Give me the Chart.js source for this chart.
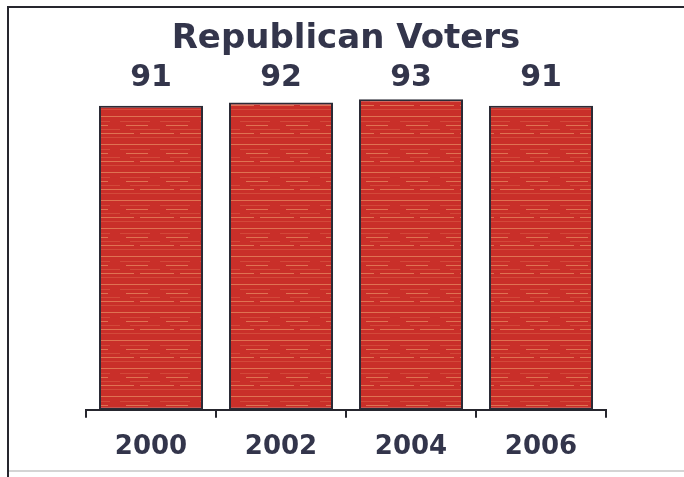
<!DOCTYPE html>
<html>
<head>
<meta charset="utf-8">
<script src="https://cdn.jsdelivr.net/npm/chart.js@4.4.1/dist/chart.umd.min.js"></script>
<style>
  html,body{margin:0;padding:0;background:#fff;}
  #wrap{width:684px;height:477px;}
</style>
</head>
<body>
<div id="wrap"><canvas id="grafico" width="684" height="477"></canvas></div>
<script>
const years=['2000','2002','2004','2006'];
const voters=[91,92,93,91];
const chartTitle='Republican Voters';

const textColor='#33354b';

// red fill with light streaks like the printed bars
const makeStreaks=()=>{
    let c=document.createElement('canvas');
    c.width=40; c.height=28;
    let g=c.getContext('2d');
    g.fillStyle='#c92f29';
    g.fillRect(0,0,40,28);
    g.fillStyle='rgba(238,160,110,0.6)';
    g.fillRect(0,4,40,1);
    g.fillRect(6,13,22,1);
    g.fillRect(0,21,14,1);
    g.fillRect(20,21,20,1);
    g.fillStyle='rgba(222,100,75,0.5)';
    g.fillRect(0,9,30,1);
    g.fillRect(10,17,30,1);
    g.fillRect(0,25,40,1);
    return g.createPattern(c,'repeat');
}

const framePlugin={
    id:'frame',
    beforeDraw(chart){
        let ctx=chart.ctx;
        ctx.save();
        ctx.fillStyle='#fff';
        ctx.fillRect(0,0,chart.width,chart.height);
        ctx.strokeStyle='#26262e';
        ctx.lineWidth=2;
        ctx.beginPath();
        ctx.moveTo(8,477);
        ctx.lineTo(8,7);
        ctx.lineTo(684,7);
        ctx.stroke();
        ctx.strokeStyle='#d4d4d4';
        ctx.lineWidth=2;
        ctx.beginPath();
        ctx.moveTo(9,471);
        ctx.lineTo(684,471);
        ctx.stroke();
        ctx.restore();
    }
}

const valueLabels={
    id:'valueLabels',
    afterDatasetsDraw(chart){
        let ctx=chart.ctx;
        let meta=chart.getDatasetMeta(0);
        ctx.save();
        ctx.font='bold 30px "DejaVu Sans"';
        ctx.fillStyle=textColor;
        ctx.textAlign='center';
        ctx.textBaseline='middle';
        meta.data.forEach((bar,i)=>{
            ctx.fillText(chart.data.datasets[0].data[i],bar.x,chart.chartArea.top+2);
        })
        ctx.restore();
    }
}

let ctx=document.getElementById('grafico');
new Chart(ctx,{
    type:'bar',
    data:{
        labels:years,
        datasets:[{
            label:chartTitle,
            data:voters,
            backgroundColor:makeStreaks(),
            borderColor:'#2b2b36',
            borderWidth:2,
            borderSkipped:false,
            categoryPercentage:1,
            barPercentage:0.8
        }]
    },
    options:{
        responsive:false,
        animation:false,
        layout:{padding:{left:86,right:78,top:0,bottom:0}},
        plugins:{
            legend:{display:false},
            tooltip:{enabled:false},
            title:{
                display:true,
                text:chartTitle,
                color:textColor,
                font:{family:'DejaVu Sans',size:34,weight:'bold'},
                padding:{top:19,bottom:16}
            }
        },
        scales:{
            y:{display:false,min:0,max:100},
            x:{
                grid:{
                    drawOnChartArea:false,
                    drawTicks:true,
                    tickLength:8,
                    color:'#26262e',
                    lineWidth:2
                },
                border:{display:true,color:'#26262e',width:2},
                ticks:{
                    color:textColor,
                    padding:14,
                    font:{family:'DejaVu Sans',size:26,weight:'bold'}
                }
            }
        }
    },
    plugins:[framePlugin,valueLabels]
});
</script>
</body>
</html>
